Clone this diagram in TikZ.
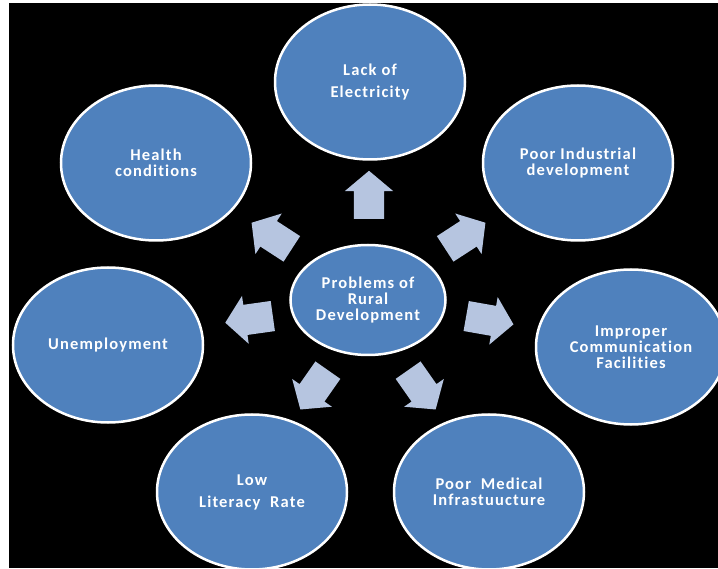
\documentclass[tikz,border=0pt]{standalone}
\usepackage{fontspec}
\setmainfont{Carlito}[LetterSpace=7,Ligatures=NoCommon]
\usetikzlibrary{shapes.geometric,shapes.arrows}
\definecolor{bubbleblue}{RGB}{79,129,189}
\definecolor{arrowblue}{RGB}{182,197,224}
\tikzset{every node/.style={align=center}, font=\bfseries\fontsize{16.5}{16}\selectfont,
  bubble/.style={ellipse, draw=white, line width=2.5pt, fill=bubbleblue, text=white,
    minimum width=190pt, minimum height=155pt, inner sep=0pt},
  hub/.style={bubble, minimum width=155pt, minimum height=110pt},
  pointer/.style={single arrow, fill=arrowblue, draw=none, minimum height=48pt,
    minimum width=48pt, inner xsep=0pt, inner ysep=15pt, single arrow head extend=9pt,
    single arrow tip angle=100, anchor=tail}}
\begin{document}
\begin{tikzpicture}[x=1pt,y=1pt]
    \fill[white] (0,0) rectangle (718,-569);
    \fill[black] (9,-3) rectangle (718,-568);
    \useasboundingbox (0,0) rectangle (718,-569);
    \begin{scope}
        \clip (9,-3) rectangle (718,-568);
        \node [hub] (prob) at (368,-300) {Problems of\\Rural\\Development};
        \node [bubble] (elec) at (370,-82) {Lack of\\[6pt]Electricity};
        \node [bubble] (health) at (156,-163) {Health\\conditions};
        \node [bubble] (indus) at (578,-163) {Poor Industrial\\development};
        \node [bubble] (unemp) at (108,-345) {Unemployment};
        \node [bubble] (comm) at (631,-347) {Improper\\Communication\\Facilities};
        \node [bubble] (liter) at (252,-492) {Low\\[6pt]Literacy\ \ Rate};
        \node [bubble] (medic) at (489,-492) {Poor\ \ Medical\\Infrastuucture};
    \end{scope}
    % block arrows from the hub
    \node [pointer, rotate=90] (toElec) at (369,-219) {};
    \node [pointer, rotate=33] (toIndus) at (445,-249) {};
    \node [pointer, rotate=147] (toHealth) at (292,-249) {};
    \node [pointer, rotate=188] (toUnemp) at (273,-316) {};
    \node [pointer, rotate=-10] (toComm) at (466,-316) {};
    \node [pointer, rotate=235] (toLiter) at (328,-370) {};
    \node [pointer, rotate=-55] (toMedic) at (408,-370) {};
\end{tikzpicture}
\end{document}
